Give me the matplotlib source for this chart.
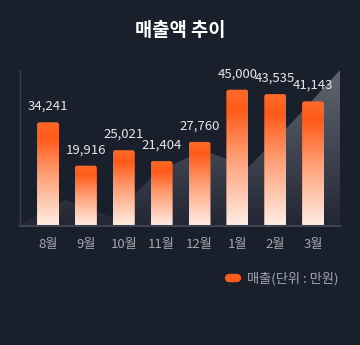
import numpy as np
import matplotlib
matplotlib.use("Agg")
import matplotlib.pyplot as plt
from matplotlib.patches import FancyBboxPatch, Polygon
from matplotlib.lines import Line2D

plt.rcParams['font.family'] = ['Noto Sans CJK KR', 'DejaVu Sans']

# data
months = ["8월", "9월", "10월", "11월", "12월", "1월", "2월", "3월"]
sales = [34241, 19916, 25021, 21404, 27760, 45000, 43535, 41143]
# decorative background area
trend = [600, 8600, 3000, 17800, 25000, 19500, 35000, 51500]

bg = "#1a1f2c"
orange = "#ff5c1c"

fig = plt.figure(figsize=(3.6, 3.45), dpi=100, facecolor=bg)
ax = fig.add_axes([20/360, 1 - 226/345, 320/360, 156/345])
ax.set_facecolor(bg)

x = np.arange(len(months))
ymax = 51500
x_lo, x_hi = -0.74, len(months) - 1 + 0.71
ax.set_xlim(x_lo, x_hi)
ax.set_ylim(0, ymax)

# background area with vertical gradient
ax_x = np.linspace(x_lo, x_hi, len(trend))
poly = Polygon(np.column_stack([np.r_[ax_x, ax_x[-1], ax_x[0]],
                                np.r_[trend, 0, 0]]),
               closed=True, facecolor="none", edgecolor="none")
ax.add_patch(poly)
t = np.linspace(0, 1, 256)[:, None]  # 0 = top
top_c = np.array([96, 101, 112]) / 255
bot_c = np.array([34, 39, 51]) / 255
grad = top_c * (1 - t) + bot_c * t
grad = np.repeat(grad[:, None, :], 2, axis=1)
im = ax.imshow(grad, extent=(x_lo, x_hi, 0, ymax),
               aspect="auto", zorder=1, interpolation="bilinear")
im.set_clip_path(poly)

# bars with per-bar gradient
bars = ax.bar(x, sales, width=0.58, color="none", edgecolor="none", zorder=2)
stops = [0.0, 0.15, 0.5, 1.0]
rs = [255, 255, 255, 255]
gs = [106, 90, 158, 238]
bs = [42, 24, 116, 230]
tt = np.linspace(0, 1, 256)
bar_grad = np.stack([np.interp(tt, stops, rs), np.interp(tt, stops, gs),
                     np.interp(tt, stops, bs)], axis=1) / 255
bar_grad = np.repeat(bar_grad[:, None, :], 2, axis=1)

xu = (x_hi - x_lo) / 320.0
yu = ymax / 156.0
for b in bars:
    bx, bw, bh = b.get_x(), b.get_width(), b.get_height()
    patch = FancyBboxPatch((bx, -ymax * 0.05), bw, bh + ymax * 0.05,
                           boxstyle=f"round,pad=0,rounding_size={2.5 * xu}",
                           mutation_aspect=yu / xu,
                           facecolor="none", edgecolor="none", zorder=3)
    ax.add_patch(patch)
    bi = ax.imshow(bar_grad, extent=(bx, bx + bw, 0, bh), aspect="auto",
                   zorder=3, interpolation="bilinear")
    bi.set_clip_path(patch)
    ax.annotate(f"{int(bh):,}", (bx + bw / 2, bh), xytext=(0, 11.5),
                textcoords="offset points", ha="center", va="center",
                color="#e6e7ea", fontsize=9.5, zorder=4)

ax.set_xlim(x_lo, x_hi)
ax.set_ylim(0, ymax)

# axes styling
for s in ["top", "right"]:
    ax.spines[s].set_visible(False)
ax.spines["left"].set_color("#3a3f4b")
ax.spines["left"].set_linewidth(1.0)
ax.spines["bottom"].set_color("#3d4350")
ax.spines["bottom"].set_linewidth(1.5)
ax.spines["left"].set_zorder(5)
ax.spines["bottom"].set_zorder(5)
ax.set_yticks([])
ax.set_xticks(x)
ax.set_xticklabels(months, color="#a3a7b0", fontsize=9.5)
ax.tick_params(axis="x", length=0, pad=8.5)

fig.text(0.5, 1 - 30/345, "매출액 추이", ha="center", va="center",
         color="white", fontsize=13.5, fontweight="bold")

handle = Line2D([0], [0], color=orange, lw=6, solid_capstyle="round")
fig.legend([handle], ["매출(단위 : 만원)"], loc="center right",
           bbox_to_anchor=(350/360, 1 - 279/345), frameon=False,
           handlelength=0.6, handletextpad=0.7,
           labelcolor="#a3a7b0", fontsize=9.5)

fig.savefig("out.png", dpi=100, facecolor=bg)
